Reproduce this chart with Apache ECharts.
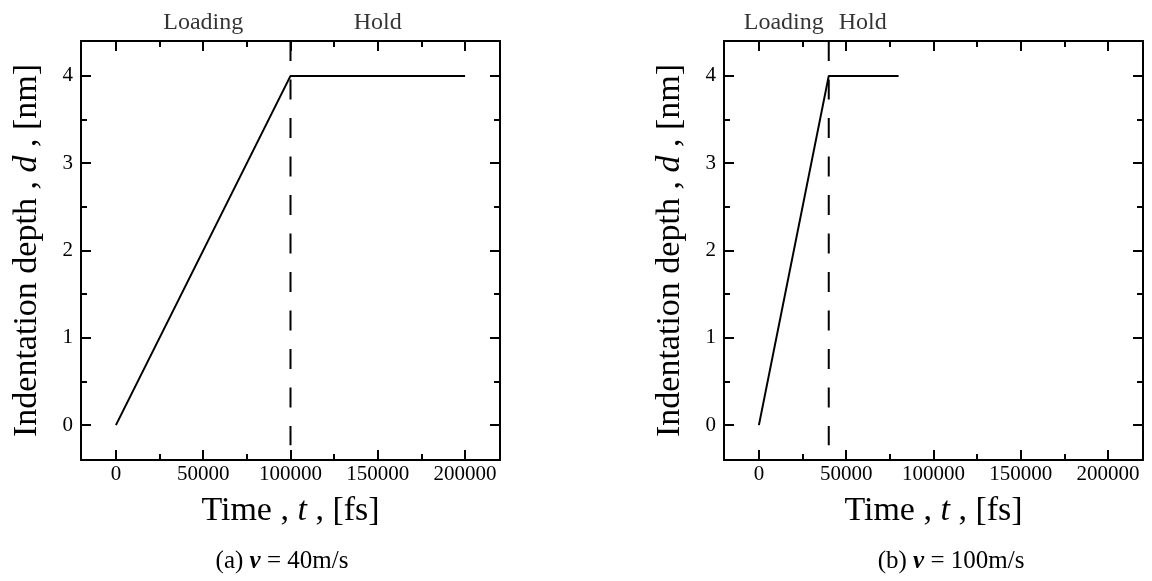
<!DOCTYPE html>
<html>
<head>
<meta charset="utf-8">
<script src="https://cdn.jsdelivr.net/npm/echarts@6/dist/echarts.min.js"></script>
<style>
  html, body { margin: 0; padding: 0; background: #fff; }
  #chart { width: 1152px; height: 581px; }
</style>
</head>
<body>
<div id="chart"></div>
<script>
// Indentation depth vs. time for two indenter speeds
const timeA = [0, 100000, 200000];
const depthA = [0, 4, 4];
const timeB = [0, 40000, 80000];
const depthB = [0, 4, 4];
const switchTimes = [100000, 40000];       // end of loading phase
const guideDepths = [4.4, -0.23];           // extent of the dashed phase divider
const speeds = [40, 100];
const panelTags = ['(a)', '(b)'];
const phaseNames = ['Loading', 'Hold'];
const xMajorTicks = [0, 50000, 100000, 150000, 200000];
const xMinorTicks = [25000, 75000, 125000, 175000];
const yMajorTicks = [0, 1, 2, 3, 4];
const yMinorTicks = [0.5, 1.5, 2.5, 3.5];
const xRange = [-20000, 220000];
const yRange = [-0.4, 4.4];

const SERIF = '"Liberation Serif", "Times New Roman", "DejaVu Serif", serif';
const BLACK = '#000';

const grids = [
  { left: 81, top: 41, width: 419, height: 419 },
  { left: 724, top: 41, width: 419, height: 419 }
];

const plain = v => String(v);

function xAxis(gi, pos, major, withLabels) {
  const ax = {
    type: 'value', gridIndex: gi, position: pos,
    min: xRange[0], max: xRange[1],
    splitLine: { show: false },
    axisLine: { show: major, onZero: false, lineStyle: { color: BLACK, width: 2 } },
    axisTick: {
      show: true, inside: true, length: major ? 10 : 6,
      customValues: major ? xMajorTicks : xMinorTicks,
      lineStyle: { color: BLACK, width: 2 }
    },
    axisLabel: { show: false }
  };
  if (withLabels) {
    ax.axisLabel = {
      show: true, customValues: xMajorTicks, margin: 4, formatter: plain,
      color: BLACK, fontFamily: SERIF, fontSize: 21
    };
    ax.name = 'Time , {i|t} , [fs]';
    ax.nameLocation = 'middle';
    ax.nameGap = 34;
    ax.nameTextStyle = {
      color: BLACK, fontFamily: SERIF, fontSize: 34,
      rich: { i: { fontStyle: 'italic', fontFamily: SERIF, fontSize: 34, color: BLACK } }
    };
  }
  return ax;
}

function yAxis(gi, pos, major, withLabels) {
  const ax = {
    type: 'value', gridIndex: gi, position: pos,
    min: yRange[0], max: yRange[1],
    splitLine: { show: false },
    axisLine: { show: major, onZero: false, lineStyle: { color: BLACK, width: 2 } },
    axisTick: {
      show: true, inside: true, length: major ? 10 : 6,
      customValues: major ? yMajorTicks : yMinorTicks,
      lineStyle: { color: BLACK, width: 2 }
    },
    axisLabel: { show: false }
  };
  if (withLabels) {
    ax.axisLabel = {
      show: true, customValues: yMajorTicks, margin: 8, formatter: plain,
      color: BLACK, fontFamily: SERIF, fontSize: 21
    };
    ax.name = 'Indentation depth , {i|d} , [nm]';
    ax.nameLocation = 'middle';
    ax.nameGap = 37;
    ax.nameTextStyle = {
      color: BLACK, fontFamily: SERIF, fontSize: 34,
      rich: { i: { fontStyle: 'italic', fontFamily: SERIF, fontSize: 34, color: BLACK } }
    };
  }
  return ax;
}

const xAxes = [];
const yAxes = [];
[0, 1].forEach(gi => {
  xAxes.push(xAxis(gi, 'bottom', true, true));
  xAxes.push(xAxis(gi, 'bottom', false, false));
  xAxes.push(xAxis(gi, 'top', true, false));
  xAxes.push(xAxis(gi, 'top', false, false));
  yAxes.push(yAxis(gi, 'left', true, true));
  yAxes.push(yAxis(gi, 'left', false, false));
  yAxes.push(yAxis(gi, 'right', true, false));
  yAxes.push(yAxis(gi, 'right', false, false));
});

const curves = [
  timeA.map((t, i) => [t, depthA[i]]),
  timeB.map((t, i) => [t, depthB[i]])
];

const phaseLabelStyle = { color: BLACK, fontFamily: SERIF, fontSize: 24 };

const series = [];
[0, 1].forEach(gi => {
  const xi = gi * 4, yi = gi * 4;
  // phase divider (dashed)
  series.push({
    type: 'line', xAxisIndex: xi, yAxisIndex: yi,
    data: guideDepths.map(d => [switchTimes[gi], d]),
    symbol: 'none', silent: true, clip: false,
    lineStyle: { color: BLACK, width: 2, type: [20, 18.5] }
  });
  // depth history
  series.push({
    type: 'line', xAxisIndex: xi, yAxisIndex: yi,
    data: curves[gi], symbol: 'none', silent: true,
    lineStyle: { color: BLACK, width: 2 }
  });
});

// phase names above each panel
const topY = yRange[1];
const tEnd = [timeA[timeA.length - 1], timeB[timeB.length - 1]];
series.push({
  type: 'scatter', xAxisIndex: 0, yAxisIndex: 0, symbolSize: 0, clip: false, silent: true,
  data: [
    { value: [switchTimes[0] / 2, topY], label: { formatter: phaseNames[0] } },
    { value: [(switchTimes[0] + tEnd[0]) / 2, topY], label: { formatter: phaseNames[1] } }
  ],
  label: Object.assign({ show: true, position: 'top', distance: 6 }, phaseLabelStyle)
});
series.push({
  type: 'scatter', xAxisIndex: 4, yAxisIndex: 4, symbolSize: 0, clip: false, silent: true,
  data: [
    { value: [switchTimes[1], topY], label: { formatter: phaseNames[0], align: 'right', offset: [-5, 0] } },
    { value: [switchTimes[1], topY], label: { formatter: phaseNames[1], align: 'left', offset: [10, 0] } }
  ],
  label: Object.assign({ show: true, position: 'top', distance: 6 }, phaseLabelStyle)
});

const captionRich = {
  v: { fontStyle: 'italic', fontWeight: 'bold', fontFamily: SERIF, fontSize: 25, color: BLACK }
};
const titles = [0, 1].map(gi => ({
  text: panelTags[gi] + ' {v|v} = ' + speeds[gi] + 'm/s',
  left: gi === 0 ? 282 : 951, top: 549, textAlign: 'center', padding: 0,
  textStyle: { color: BLACK, fontFamily: SERIF, fontSize: 25, fontWeight: 'normal', rich: captionRich }
}));

const chart = echarts.init(document.getElementById('chart'), null, { renderer: 'canvas' });
chart.setOption({
  animation: false,
  backgroundColor: '#fff',
  title: titles,
  grid: grids,
  xAxis: xAxes,
  yAxis: yAxes,
  series: series
});
</script>
</body>
</html>
